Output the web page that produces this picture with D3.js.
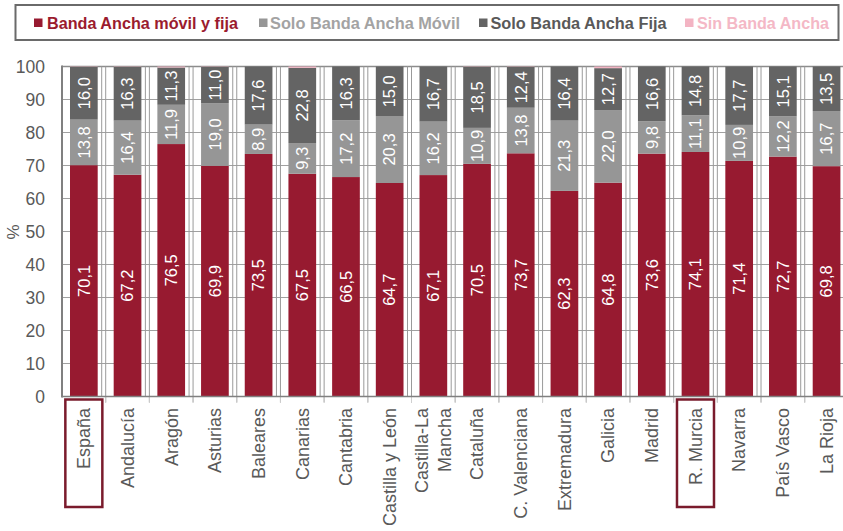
<!DOCTYPE html>
<html>
<head>
<meta charset="utf-8">
<script src="https://cdn.jsdelivr.net/npm/d3@7"></script>
<style>
  body { margin: 0; background: #fff; }
  svg { display: block; font-family: "Liberation Sans", Arial, sans-serif; }
</style>
</head>
<body>
<svg id="chart" width="843" height="531"></svg>
<script>
// Hogares por tipo de acceso a banda ancha (%), por comunidad autónoma
const regiones = ["España", "Andalucía", "Aragón", "Asturias", "Baleares", "Canarias",
  "Cantabria", "Castilla y León", "Castilla-La Mancha", "Cataluña", "C. Valenciana",
  "Extremadura", "Galicia", "Madrid", "R. Murcia", "Navarra", "País Vasco", "La Rioja"];
const movilYFija = [70.1, 67.2, 76.5, 69.9, 73.5, 67.5, 66.5, 64.7, 67.1, 70.5, 73.7, 62.3, 64.8, 73.6, 74.1, 71.4, 72.7, 69.8];
const soloMovil  = [13.8, 16.4, 11.9, 19.0, 8.9, 9.3, 17.2, 20.3, 16.2, 10.9, 13.8, 21.3, 22.0, 9.8, 11.1, 10.9, 12.2, 16.7];
const soloFija   = [16.0, 16.3, 11.3, 11.0, 17.6, 22.8, 16.3, 15.0, 16.7, 18.5, 12.4, 16.4, 12.7, 16.6, 14.8, 17.7, 15.1, 13.5];
const sinBanda   = [0.1, 0.1, 0.3, 0.1, 0.0, 0.4, 0.0, 0.0, 0.0, 0.1, 0.1, 0.0, 0.5, 0.0, 0.0, 0.0, 0.0, 0.0];
const series = ["Banda Ancha móvil y fija", "Solo Banda Ancha Móvil", "Solo Banda Ancha Fija", "Sin Banda Ancha"];
const yTicks = [0, 10, 20, 30, 40, 50, 60, 70, 80, 90, 100];
const destacadas = ["España", "R. Murcia"];

const colores = ["#971a30", "#969696", "#646464", "#f3b4c3"];
const coloresLeyenda = ["#9b1b2e", "#a3a3a3", "#595959", "#f4b8c6"];
const textGray = "#595959";

const svg = d3.select("#chart");
const W = 843, H = 531;
const plot = { left: 62, right: 848.4, top: 66.5, bottom: 396.5 };

const x = d3.scaleBand().domain(regiones)
  .range([plot.left, plot.right])
  .paddingInner(0.366).paddingOuter(0.183);
const y = d3.scaleLinear().domain([0, 100]).range([plot.bottom, plot.top]);

// table for the stack layout
const valores = [movilYFija, soloMovil, soloFija, sinBanda];
const tabla = regiones.map((r, i) => {
  const row = { region: r };
  series.forEach((s, k) => row[s] = valores[k][i]);
  return row;
});
const stacked = d3.stack().keys(series)(tabla);

// horizontal gridlines
svg.append("g").selectAll("line").data(yTicks).join("line")
  .attr("x1", plot.left).attr("x2", W)
  .attr("y1", d => y(d)).attr("y2", d => y(d))
  .attr("stroke", d => d === 100 ? "#8c8c8c" : "#a0a0a0")
  .attr("stroke-width", d => d === 100 ? 1.6 : 1);

// vertical separators between categories
const step = x.step();
const bordes = d3.range(1, regiones.length).map(i => plot.left + i * step);
const gv = svg.append("g");
gv.selectAll("line.a").data(bordes).join("line").attr("class", "a")
  .attr("x1", d => d).attr("x2", d => d)
  .attr("y1", plot.top).attr("y2", plot.bottom + 6)
  .attr("stroke", "#9a9a9a").attr("stroke-width", 1);
gv.selectAll("line.b").data(bordes).join("line").attr("class", "b")
  .attr("x1", d => d - 4).attr("x2", d => d - 4)
  .attr("y1", plot.top).attr("y2", plot.bottom)
  .attr("stroke", "#9a9a9a").attr("stroke-width", 1);
gv.selectAll("line.c").data(bordes).join("line").attr("class", "c")
  .attr("x1", d => d).attr("x2", d => d)
  .attr("y1", plot.bottom).attr("y2", plot.bottom + 6)
  .attr("stroke", "#d0d0d0").attr("stroke-width", 1);

// stacked bars
const gBars = svg.append("g");
stacked.forEach((layer, k) => {
  gBars.append("g").attr("fill", colores[k])
    .selectAll("rect").data(layer).join("rect")
    .attr("x", d => x(d.data.region))
    .attr("width", x.bandwidth())
    .attr("y", d => y(d[1]))
    .attr("height", d => Math.max(0, y(d[0]) - y(d[1])));
});

// value labels inside segments
const fmt = v => d3.format(".1f")(v).replace(".", ",");
const gLab = svg.append("g")
  .attr("fill", "#fff").attr("font-size", 16.5)
  .attr("text-anchor", "middle");
stacked.slice(0, 3).forEach(layer => {
  gLab.append("g").selectAll("text").data(layer).join("text")
    .attr("transform", d => {
      const cx = x(d.data.region) + x.bandwidth() / 2;
      const cy = y((d[0] + d[1]) / 2);
      return `translate(${cx},${cy}) rotate(-90)`;
    })
    .attr("dy", "0.35em")
    .text(d => fmt(d[1] - d[0]));
});

// axes lines
svg.append("line").attr("x1", plot.left).attr("x2", plot.left)
  .attr("y1", plot.top - 1).attr("y2", plot.bottom + 1)
  .attr("stroke", "#808080").attr("stroke-width", 2);
svg.append("line").attr("x1", plot.left).attr("x2", W)
  .attr("y1", plot.bottom).attr("y2", plot.bottom)
  .attr("stroke", "#808080").attr("stroke-width", 1.5);

// y axis labels
const yAxis = d3.axisLeft(y).tickValues(yTicks).tickSize(0).tickPadding(17);
const gy = svg.append("g").attr("transform", `translate(${plot.left},0)`).call(yAxis);
gy.select(".domain").remove();
gy.selectAll("text").attr("font-size", 17.5).attr("fill", textGray)
  .attr("font-family", "Liberation Sans, Arial, sans-serif");

svg.append("text")
  .attr("transform", "translate(19,232) rotate(-90)")
  .attr("text-anchor", "middle").attr("font-size", 17).attr("fill", textGray)
  .text("%");

// x axis labels (rotated)
const gx = svg.append("g").attr("fill", textGray).attr("font-size", 18);
regiones.forEach(r => {
  const cx = x(r) + x.bandwidth() / 2;
  const partes = r === "Castilla-La Mancha" ? ["Castilla-La", "Mancha"] : [r];
  const t = gx.append("text")
    .attr("transform", `translate(${cx},408) rotate(-90)`)
    .attr("text-anchor", "end");
  partes.forEach((p, j) => {
    t.append("tspan").attr("x", 0)
      .attr("dy", partes.length === 1 ? "0.35em" : (j === 0 ? "-0.28em" : "1.25em"))
      .text(p);
  });
});

// highlighted regions
svg.append("g").selectAll("rect").data(destacadas).join("rect")
  .attr("x", d => x(d) + x.bandwidth() / 2 - 18.5)
  .attr("y", 399.5)
  .attr("width", 37).attr("height", 107.5)
  .attr("fill", "none").attr("stroke", "#7a1b2c").attr("stroke-width", 2.5);

// legend
svg.append("rect").attr("x", 15.5).attr("y", 5).attr("width", 823).attr("height", 35)
  .attr("fill", "#fff").attr("stroke", "#6a6a6a").attr("stroke-width", 2);
const legendPos = [
  { m: 34, t: 47, w: 191 },
  { m: 259, t: 270, w: 190 },
  { m: 479, t: 490.5, w: 176 },
  { m: 685, t: 697, w: 132 }
];
const gLeg = svg.append("g");
series.forEach((s, k) => {
  const p = legendPos[k];
  gLeg.append("rect").attr("x", p.m).attr("y", 18.5).attr("width", 8.5).attr("height", 8.5)
    .attr("fill", colores[k]);
  gLeg.append("text").attr("x", p.t).attr("y", 28.5)
    .attr("font-size", 16).attr("font-weight", "bold")
    .attr("fill", coloresLeyenda[k])
    .attr("textLength", p.w).attr("lengthAdjust", "spacingAndGlyphs")
    .text(s);
});
</script>
</body>
</html>
